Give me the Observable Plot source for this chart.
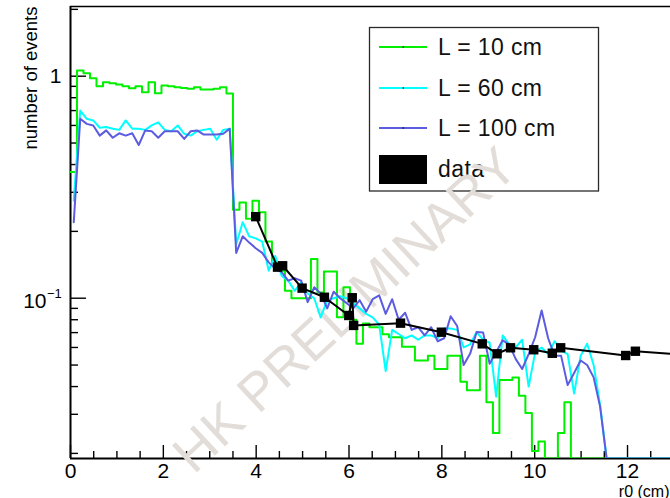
<!DOCTYPE html>
<html>
<head>
<meta charset="utf-8">
<script src="https://cdn.jsdelivr.net/npm/d3@7"></script>
<script src="https://cdn.jsdelivr.net/npm/@observablehq/plot@0.6"></script>
<style>
  html, body { margin: 0; padding: 0; background: white; }
  #chart { width: 670px; height: 498px; overflow: hidden; }
</style>
</head>
<body>
<div id="chart"></div>
<script>
// ---- data ----
const binWidth = 0.14; // cm per histogram bin
const greenL10 = [0.37,1.06,1.03,0.98,0.90,0.94,0.93,0.917,0.90,0.883,0.90,0.847,0.94,0.838,0.908,0.90,0.892,0.885,0.877,0.892,0.871,0.871,0.877,0.892,0.835,
  0.25,0.27,0.228,0.275,0.244,0.18,0.145,0.133,0.108,0.10,0.10,0.10,0.15,0.106,0.132,0.132,0.082,0.112,0.08,0.0624,0.077,0.074,0.074,0.0688,0.0667,0.0667,
  0.0605,0.0605,0.0524,0.0524,0.055,0.048,0.048,0.055,0.055,0.042,0.0385,0.0385,0.055,0.034,0.0247,0.0428,0.0428,0.044,0.0364,0.0304,0.0205,0.0226,0,0,
  0.0247,0.034,0,0,0,0,0,0,0,0,0,0,0,0,0,0,0,0];
const cyanL60 = [0.275,0.70,0.643,0.632,0.586,0.59,0.58,0.573,0.632,0.58,0.58,0.573,0.60,0.62,0.573,0.565,0.60,0.55,0.54,0.565,0.573,0.58,0.517,0.573,0.58,
  0.175,0.22,0.19,0.186,0.18,0.133,0.155,0.126,0.12,0.108,0.118,0.105,0.10,0.082,0.098,0.10,0.102,0.10,0.095,0.09,0.085,0.082,0.076,0.047,0.072,0.069,
  0.066,0.068,0.065,0.068,0.068,0.066,0.073,0.073,0.072,0.06,0.062,0.0704,0.065,0.063,0.036,0.068,0.062,0.06,0.065,0.04,0.057,0.06,0.056,0.064,0.058,
  0.056,0.0372,0.055,0.0624,0.05,0.033,0,0,0,0,0,0,0,0,0,0,0];
const blueL100 = [0.22,0.643,0.61,0.60,0.54,0.57,0.528,0.553,0.54,0.553,0.49,0.57,0.565,0.528,0.565,0.565,0.565,0.522,0.565,0.57,0.546,0.546,0.546,0.55,0.58,
  0.16,0.19,0.178,0.168,0.16,0.145,0.136,0.131,0.12,0.123,0.12,0.096,0.112,0.105,0.09,0.107,0.10,0.095,0.09,0.098,0.087,0.099,0.103,0.085,0.099,0.08,
  0.086,0.072,0.074,0.068,0.074,0.064,0.066,0.083,0.075,0.05,0.0563,0.0704,0.07,0.0507,0.0571,0.0646,0.062,0.0533,0.048,0.056,0.0667,0.088,0.066,0.055,
  0.055,0.0406,0.046,0.0524,0.05,0.044,0.0324,0,0,0,0,0,0,0,0,0,0,0];
const dataR0 = [3.99,4.46,4.57,4.99,5.47,5.995,6.07,6.10,7.11,7.99,8.87,9.19,9.48,9.98,10.38,10.56,11.96,12.17,13.4];
const dataEvents = [0.233,0.138,0.140,0.111,0.101,0.0836,0.1005,0.0754,0.0772,0.0703,0.0623,0.0562,0.0598,0.0586,0.0565,0.0598,0.0552,0.0577,0.0553];

const xDomain = [0, 12.926];
const yDomain = [0.01897, 2.06];
const xMajorTicks = [0, 2, 4, 6, 8, 10, 12];
const xTickLabels = ["0", "2", "4", "6", "8", "10", "12"];
const xMinorTicks = [0.5,1,1.5,2.5,3,3.5,4.5,5,5.5,6.5,7,7.5,8.5,9,9.5,10.5,11,11.5,12.5];
const yMajorTicks = [1, 0.1];
const yTickMantissa = ["1", "10"];
const yTickExponent = ["", "−1"];
const yMinorTicks = [0.02,0.03,0.04,0.05,0.06,0.07,0.08,0.09,0.2,0.3,0.4,0.5,0.6,0.7,0.8,0.9,2];
const legendLabels = ["L = 10 cm", "L = 60 cm", "L = 100 cm", "data"];
const seriesColors = ["#00f000", "#00ffff", "#5c5ce0", "#000000"];
const xTitle = "r0 (cm)";
const yTitle = "number of events";
const watermark = "HK PRELIMINARY";

// ---- derived tables ----
const greenSteps = greenL10.map((v, i) => ({r: i * binWidth, v}))
  .concat([{r: greenL10.length * binWidth, v: greenL10[greenL10.length - 1]}]);
const cyanPts = cyanL60.map((v, i) => ({r: (i + 0.5) * binWidth, v}));
const bluePts = blueL100.map((v, i) => ({r: (i + 0.5) * binWidth, v}));
const dataPts = dataR0.map((r, i) => ({r, v: dataEvents[i]}));
const yv = d => Math.max(d.v, yDomain[0]);

const FONT = "'Liberation Sans', Arial, Helvetica, sans-serif";

const legendMark = () => {
  const g = d3.create("svg:g").attr("font-family", FONT).attr("text-anchor", "start");
  g.append("rect").attr("x", 369.5).attr("y", 27.5).attr("width", 229).attr("height", 163.5)
    .attr("fill", "white").attr("stroke", "#2a2a2a").attr("stroke-width", 1.3);
  const rowsY = [47, 88, 128, 169];
  legendLabels.forEach((lab, i) => {
    const y = rowsY[i];
    if (i < 3) {
      g.append("line").attr("x1", 379).attr("x2", 427).attr("y1", y).attr("y2", y)
        .attr("stroke", seriesColors[i]).attr("stroke-width", 2);
      g.append("rect").attr("x", 402.5).attr("y", y - 0.75).attr("width", 1.5).attr("height", 1.5).attr("fill", "#222");
    } else {
      g.append("rect").attr("x", 379).attr("y", 155).attr("width", 48).attr("height", 29).attr("fill", "black");
    }
    g.append("text").attr("x", 438).attr("y", y).attr("dy", "0.36em").attr("text-anchor", "start")
      .attr("font-size", 23).attr("letter-spacing", 0.4).attr("fill", "#111").text(lab);
  });
  return g.node();
};

const plot = Plot.plot({
  width: 670,
  height: 498,
  marginLeft: 70,
  marginRight: 0,
  marginTop: 6,
  marginBottom: 40,
  style: {fontFamily: FONT, background: "white", color: "black", overflow: "hidden"},
  x: {domain: xDomain},
  y: {type: "log", domain: yDomain},
  marks: [
    // frame (left, bottom, top)
    Plot.ruleX([xDomain[0]], {stroke: "black", strokeWidth: 2}),
    Plot.ruleY([yDomain[0]], {stroke: "black", strokeWidth: 2}),
    Plot.ruleY([yDomain[1]], {stroke: "black", strokeWidth: 1.4}),
    // y ticks (inside)
    Plot.axisY({anchor: "left", ticks: yMajorTicks, tickSize: 16, dx: 16, fill: "none", tickFormat: () => "", label: null, strokeWidth: 1.4}),
    Plot.axisY({anchor: "left", ticks: yMinorTicks, tickSize: 8, dx: 8, fill: "none", tickFormat: () => "", label: null, strokeWidth: 1.4}),
    // x ticks (inside)
    Plot.axisX({anchor: "bottom", ticks: xMajorTicks, tickSize: 13, dy: -13, fill: "none", tickFormat: () => "", label: null, strokeWidth: 1.4}),
    Plot.axisX({anchor: "bottom", ticks: xMinorTicks, tickSize: 7, dy: -7, fill: "none", tickFormat: () => "", label: null, strokeWidth: 1.4}),
    // x tick labels
    Plot.axisX({anchor: "bottom", ticks: xMajorTicks, tickSize: 0, tickPadding: 5, fontSize: 21, label: null,
      tickFormat: d => xTickLabels[xMajorTicks.indexOf(d)]}),
    // y tick labels
    Plot.text(yMajorTicks, {filter: (d, i) => yTickExponent[i] === "", y: d => d, text: (d, i) => yTickMantissa[yMajorTicks.indexOf(d)],
      frameAnchor: "left", textAnchor: "end", dx: -9, dy: 0, fontSize: 21, fill: "black"}),
    Plot.text(yMajorTicks, {filter: (d, i) => yTickExponent[i] !== "", y: d => d, text: d => yTickMantissa[yMajorTicks.indexOf(d)],
      frameAnchor: "left", textAnchor: "end", dx: -24, dy: 3.5, fontSize: 21, fill: "black"}),
    Plot.text(yMajorTicks, {filter: (d, i) => yTickExponent[i] !== "", y: d => d, text: d => yTickExponent[yMajorTicks.indexOf(d)],
      frameAnchor: "left", textAnchor: "start", dx: -23.5, dy: -4, fontSize: 13, fill: "black"}),
    // axis titles
    Plot.text([yTitle], {text: d => d, frameAnchor: "top-left", rotate: -90, textAnchor: "end", lineAnchor: "bottom",
      dx: -34, dy: 0, fontSize: 18.5, fill: "black"}),
    Plot.text([xTitle], {text: d => d, frameAnchor: "bottom-right", textAnchor: "end", lineAnchor: "bottom",
      dx: -1, dy: 38, fontSize: 16, fill: "black"}),
    // legend
    legendMark,
    // watermark
    Plot.text([watermark], {text: d => d, frameAnchor: "middle", rotate: -43, dx: -25, dy: 78,
      fontSize: 53, fill: "#e2ddd8", lineAnchor: "middle", textAnchor: "middle"}),
    // simulations
    Plot.line(greenSteps, {x: "r", y: yv, curve: "step-after", stroke: seriesColors[0], strokeWidth: 2, clip: true}),
    Plot.line(cyanPts, {x: "r", y: yv, stroke: seriesColors[1], strokeWidth: 2, clip: true}),
    Plot.line(bluePts, {x: "r", y: yv, stroke: seriesColors[2], strokeWidth: 2, clip: true}),
    // data
    Plot.line(dataPts, {x: "r", y: yv, stroke: "black", strokeWidth: 2, clip: true}),
    Plot.dot(dataPts, {x: "r", y: yv, symbol: "square", r: 5.3, fill: "black", stroke: "none", clip: true})
  ]
});
document.getElementById("chart").appendChild(plot);
</script>
</body>
</html>
